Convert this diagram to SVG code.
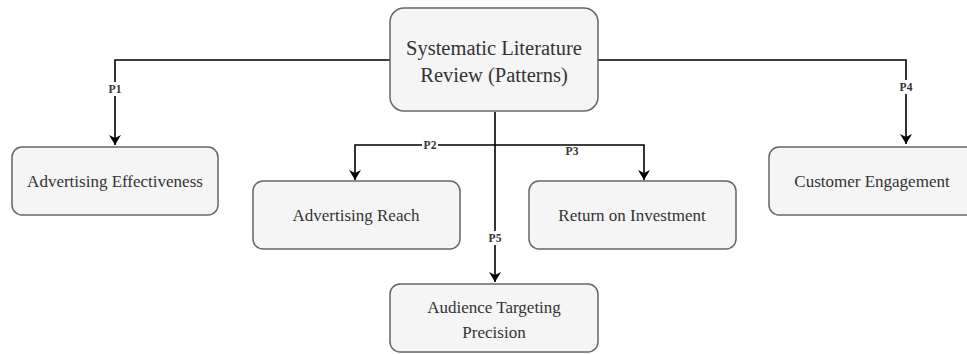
<svg xmlns="http://www.w3.org/2000/svg" width="967" height="354" viewBox="0 0 967 354">
<defs>
<style>
.box{fill:#f5f5f5;stroke:#666;stroke-width:1.5}
.t{font-family:"Liberation Serif","Times New Roman",serif;fill:#333;text-anchor:middle}
.main{font-size:20.5px}
.n{font-size:17px}
.lbl{font-family:"Liberation Serif","Times New Roman",serif;font-size:11.5px;font-weight:bold;fill:#333;text-anchor:middle}
.lb{fill:#fff}
.c{fill:none;stroke:#000;stroke-width:1.6}
</style>
<marker id="ah" markerWidth="12" markerHeight="12" refX="10" refY="6" orient="auto" markerUnits="userSpaceOnUse">
<path d="M0,0 L10,6 L0,12 L3,6 Z" fill="#000"/>
</marker>
</defs>
<rect width="967" height="354" fill="#fff"/>
<g id="connectors">
<path class="c" d="M390,60 H115 V145" marker-end="url(#ah)"/>
<path class="c" d="M598,60 H906 V144" marker-end="url(#ah)"/>
<path class="c" d="M495,112 V282" marker-end="url(#ah)"/>
<path class="c" d="M495,145 H355 V180" marker-end="url(#ah)"/>
<path class="c" d="M495,145 H644 V180" marker-end="url(#ah)"/>
<rect class="lb" x="107" y="82" width="16" height="14"/>
<text class="lbl" x="115" y="93">P1</text>
<rect class="lb" x="898" y="80" width="16" height="14"/>
<text class="lbl" x="906" y="91">P4</text>
<rect class="lb" x="422" y="139" width="16" height="12"/>
<text class="lbl" x="430" y="149">P2</text>
<text class="lbl" x="572" y="155">P3</text>
<rect class="lb" x="487" y="231" width="16" height="14"/>
<text class="lbl" x="495" y="242">P5</text>
</g>
<g id="slr">
<rect class="box" x="390" y="8" width="208" height="103" rx="14"/>
<text class="t main" x="494" y="55">Systematic Literature</text>
<text class="t main" x="494" y="82">Review (Patterns)</text>
</g>
<g id="effectiveness">
<rect class="box" x="12" y="147" width="206" height="68" rx="10"/>
<text class="t n" x="115" y="187">Advertising Effectiveness</text>
</g>
<g id="reach">
<rect class="box" x="253" y="181" width="207" height="68" rx="10"/>
<text class="t n" x="356" y="221">Advertising Reach</text>
</g>
<g id="roi">
<rect class="box" x="529" y="181" width="207" height="68" rx="10"/>
<text class="t n" x="632" y="221">Return on Investment</text>
</g>
<g id="engagement">
<rect class="box" x="769" y="147" width="210" height="68" rx="10"/>
<text class="t n" x="872" y="187">Customer Engagement</text>
</g>
<g id="targeting">
<rect class="box" x="390" y="284" width="208" height="68" rx="10"/>
<text class="t n" x="494" y="313">Audience Targeting</text>
<text class="t n" x="494" y="338">Precision</text>
</g>
</svg>
